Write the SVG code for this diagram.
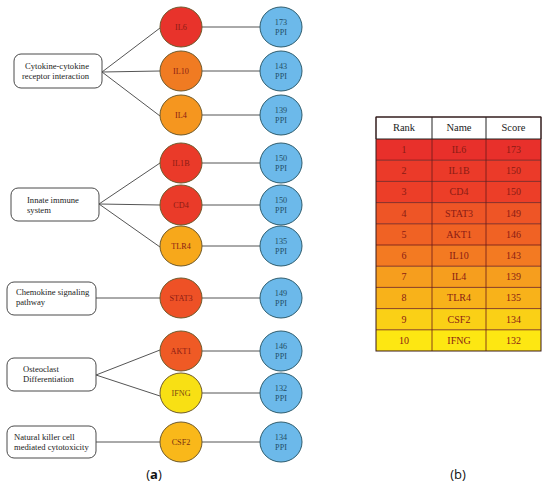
<svg xmlns="http://www.w3.org/2000/svg" width="550" height="485" viewBox="0 0 550 485">
<style>
text{font-family:"Liberation Serif","DejaVu Serif",serif}
.box{fill:#fff;stroke:#4a4a4a;stroke-width:1}
.bt{font-size:8.6px;fill:#222}
.gene{stroke:#6e5a2c;stroke-width:1}
.gt{font-size:8.2px;fill:#8a1c14;text-anchor:middle}
.ppi{fill:#6cb9ea;stroke:#2f5d6e;stroke-width:1}
.pt{font-size:8.2px;fill:#234e66;text-anchor:middle}
.con{stroke:#555;stroke-width:1;fill:none}
.th{font-size:10.5px;fill:#222;text-anchor:middle}
.td{font-size:10px;fill:#8a1c14;text-anchor:middle}
.tl{stroke:#6a1a1a;stroke-width:0.8}
text.cap{font-family:"Open Sans","Liberation Sans",sans-serif;font-size:13px;fill:#111;text-anchor:middle}
</style>
<rect width="550" height="485" fill="#fff"/>

<g id="connectors">
<path class="con" d="M102,72 L160,28 M102,72 L160,71 M102,72 L160,116"/>
<path class="con" d="M99,204 L160,163 M99,204 L160,205 M99,204 L160,247"/>
<path class="con" d="M96,298 L160,298"/>
<path class="con" d="M96,375 L160,350 M96,375 L160,396"/>
<path class="con" d="M96,442 L160,442"/>
<path class="con" d="M202,27 L260,27 M202,71 L260,71 M202,115 L260,115 M202,163 L260,163 M202,205 L260,205 M202,246 L260,246 M202,298 L260,298 M202,351 L260,351 M202,393 L260,393 M202,442 L260,442"/>
</g>

<g id="box-cytokine"><rect class="box" x="14" y="54" width="88" height="34" rx="7"/>
<text class="bt" x="25" y="69">Cytokine-cytokine</text><text class="bt" x="22" y="79">receptor interaction</text></g>
<g id="box-innate"><rect class="box" x="11" y="188" width="88" height="33" rx="7"/>
<text class="bt" x="27" y="203">Innate immune</text><text class="bt" x="27" y="213">system</text></g>
<g id="box-chemokine"><rect class="box" x="7" y="282" width="89" height="33" rx="7"/>
<text class="bt" x="16" y="295">Chemokine signaling</text><text class="bt" x="16" y="305">pathway</text></g>
<g id="box-osteoclast"><rect class="box" x="7" y="358" width="89" height="33" rx="7"/>
<text class="bt" x="23" y="372">Osteoclast</text><text class="bt" x="23" y="382">Differentiation</text></g>
<g id="box-nk"><rect class="box" x="7" y="426" width="89" height="32" rx="7"/>
<text class="bt" x="14" y="440">Natural killer cell</text><text class="bt" x="14" y="450">mediated cytotoxicity</text></g>

<g id="gene-IL6"><ellipse class="gene" cx="181" cy="27" rx="21" ry="20" fill="#e8332b"/><text class="gt" x="181" y="30">IL6</text></g>
<g id="gene-IL10"><ellipse class="gene" cx="181" cy="71" rx="21" ry="20" fill="#f07b22"/><text class="gt" x="181" y="74">IL10</text></g>
<g id="gene-IL4"><ellipse class="gene" cx="181" cy="115" rx="21" ry="20" fill="#f5961f"/><text class="gt" x="181" y="118">IL4</text></g>
<g id="gene-IL1B"><ellipse class="gene" cx="181" cy="163" rx="21" ry="20" fill="#ea3a29"/><text class="gt" x="181" y="166">IL1B</text></g>
<g id="gene-CD4"><ellipse class="gene" cx="181" cy="205" rx="21" ry="20" fill="#ea3b29"/><text class="gt" x="181" y="208">CD4</text></g>
<g id="gene-TLR4"><ellipse class="gene" cx="181" cy="246" rx="21" ry="20" fill="#f7a81b"/><text class="gt" x="181" y="249">TLR4</text></g>
<g id="gene-STAT3"><ellipse class="gene" cx="181" cy="298" rx="21" ry="20" fill="#ee5126"/><text class="gt" x="181" y="301">STAT3</text></g>
<g id="gene-AKT1"><ellipse class="gene" cx="181" cy="351" rx="21" ry="20" fill="#ef5a25"/><text class="gt" x="181" y="354">AKT1</text></g>
<g id="gene-IFNG"><ellipse class="gene" cx="181" cy="393" rx="21" ry="20" fill="#f8e014"/><text class="gt" x="181" y="396" style="fill:#7a4a10">IFNG</text></g>
<g id="gene-CSF2"><ellipse class="gene" cx="181" cy="442" rx="21" ry="20" fill="#f9b81a"/><text class="gt" x="181" y="445" style="fill:#7a3010">CSF2</text></g>

<g id="ppi-IL6"><ellipse class="ppi" cx="281" cy="27" rx="21" ry="20"/><text class="pt" x="281" y="25">173</text><text class="pt" x="281" y="35">PPI</text></g>
<g id="ppi-IL10"><ellipse class="ppi" cx="281" cy="71" rx="21" ry="20"/><text class="pt" x="281" y="69">143</text><text class="pt" x="281" y="79">PPI</text></g>
<g id="ppi-IL4"><ellipse class="ppi" cx="281" cy="115" rx="21" ry="20"/><text class="pt" x="281" y="113">139</text><text class="pt" x="281" y="123">PPI</text></g>
<g id="ppi-IL1B"><ellipse class="ppi" cx="281" cy="163" rx="21" ry="20"/><text class="pt" x="281" y="161">150</text><text class="pt" x="281" y="171">PPI</text></g>
<g id="ppi-CD4"><ellipse class="ppi" cx="281" cy="205" rx="21" ry="20"/><text class="pt" x="281" y="203">150</text><text class="pt" x="281" y="213">PPI</text></g>
<g id="ppi-TLR4"><ellipse class="ppi" cx="281" cy="246" rx="21" ry="20"/><text class="pt" x="281" y="244">135</text><text class="pt" x="281" y="254">PPI</text></g>
<g id="ppi-STAT3"><ellipse class="ppi" cx="281" cy="298" rx="21" ry="20"/><text class="pt" x="281" y="296">149</text><text class="pt" x="281" y="306">PPI</text></g>
<g id="ppi-AKT1"><ellipse class="ppi" cx="281" cy="351" rx="21" ry="20"/><text class="pt" x="281" y="349">146</text><text class="pt" x="281" y="359">PPI</text></g>
<g id="ppi-IFNG"><ellipse class="ppi" cx="281" cy="393" rx="21" ry="20"/><text class="pt" x="281" y="391">132</text><text class="pt" x="281" y="401">PPI</text></g>
<g id="ppi-CSF2"><ellipse class="ppi" cx="281" cy="442" rx="21" ry="20"/><text class="pt" x="281" y="440">134</text><text class="pt" x="281" y="450">PPI</text></g>

<text class="cap" x="154" y="479">(<tspan font-weight="bold">a</tspan>)</text>
<text class="cap" x="458" y="479">(b)</text>

<g id="table">
<rect x="376" y="117" width="165" height="22" fill="#fff"/>
<rect x="376" y="139" width="165" height="21.2" fill="#e8302b"/>
<rect x="376" y="160.2" width="165" height="21.2" fill="#eb3a29"/>
<rect x="376" y="181.4" width="165" height="21.2" fill="#ec3e28"/>
<rect x="376" y="202.6" width="165" height="21.2" fill="#ee5526"/>
<rect x="376" y="223.8" width="165" height="21.2" fill="#f06224"/>
<rect x="376" y="245" width="165" height="21.2" fill="#f37a22"/>
<rect x="376" y="266.2" width="165" height="21.2" fill="#f69e1e"/>
<rect x="376" y="287.4" width="165" height="21.2" fill="#f8b21a"/>
<rect x="376" y="308.6" width="165" height="21.2" fill="#fad016"/>
<rect x="376" y="329.8" width="165" height="21.2" fill="#fde712"/>
<path class="tl" d="M376,160.2H541M376,181.4H541M376,202.6H541M376,223.8H541M376,245H541M376,266.2H541M376,287.4H541M376,308.6H541M376,329.8H541M432,139V351M486,139V351"/>
<path stroke="#222" stroke-width="1" fill="none" d="M376,117H541V139H376Z M432,117V139 M486,117V139"/>
<rect x="376" y="117" width="165" height="234" fill="none" stroke="#3a1a1a" stroke-width="1"/>
<text class="th" x="404" y="131">Rank</text><text class="th" x="459" y="131">Name</text><text class="th" x="513.5" y="131">Score</text>
<text class="td" x="404" y="153">1</text><text class="td" x="459" y="153">IL6</text><text class="td" x="513.5" y="153">173</text>
<text class="td" x="404" y="174">2</text><text class="td" x="459" y="174">IL1B</text><text class="td" x="513.5" y="174">150</text>
<text class="td" x="404" y="195">3</text><text class="td" x="459" y="195">CD4</text><text class="td" x="513.5" y="195">150</text>
<text class="td" x="404" y="217">4</text><text class="td" x="459" y="217">STAT3</text><text class="td" x="513.5" y="217">149</text>
<text class="td" x="404" y="238">5</text><text class="td" x="459" y="238">AKT1</text><text class="td" x="513.5" y="238">146</text>
<text class="td" x="404" y="259">6</text><text class="td" x="459" y="259">IL10</text><text class="td" x="513.5" y="259">143</text>
<text class="td" x="404" y="280">7</text><text class="td" x="459" y="280">IL4</text><text class="td" x="513.5" y="280">139</text>
<text class="td" x="404" y="301">8</text><text class="td" x="459" y="301">TLR4</text><text class="td" x="513.5" y="301">135</text>
<text class="td" x="404" y="323">9</text><text class="td" x="459" y="323">CSF2</text><text class="td" x="513.5" y="323">134</text>
<text class="td" x="404" y="344">10</text><text class="td" x="459" y="344">IFNG</text><text class="td" x="513.5" y="344">132</text>
</g>
</svg>
